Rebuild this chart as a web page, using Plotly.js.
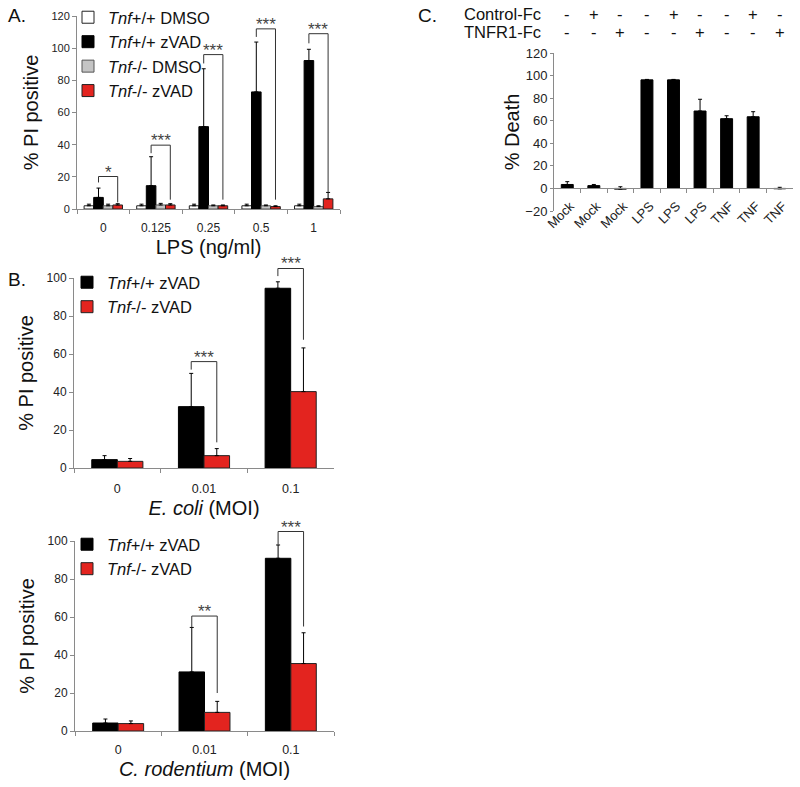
<!DOCTYPE html>
<html><head><meta charset="utf-8">
<script src="https://cdn.plot.ly/plotly-3.0.1.min.js"></script>
<style>html,body{margin:0;padding:0;background:#fff}#chart{width:800px;height:787px}</style>
</head><body><div id="chart"></div>
<script>
// ---------- Panel A: LPS dose ----------
const lpsDoses = ['0', '0.125', '0.25', '0.5', '1'];
const aWtDmso = [2, 2, 2, 2, 2];
const aWtDmsoErr = [1, 1, 1, 1, 1];
const aWtZvad = [7.2, 14.5, 51.2, 72.8, 92.3];
const aWtZvadErr = [5.8, 18, 36, 31, 7];
const aKoDmso = [2, 2.5, 2, 2, 1.5];
const aKoDmsoErr = [1, 1, 0.5, 0.5, 0.5];
const aKoZvad = [2.5, 2.5, 2, 1.5, 6.3];
const aKoZvadErr = [0.8, 0.8, 0.5, 0.5, 4];
const aSig = ['*', '***', '***', '***', '***'];
const aSigTop = [20.2, 39.7, 96, 112, 109];
const aSigLeftEnd = [16.5, 34.7, 90.5, 107, 103];
const aSigRightEnd = [4.1, 5.8, 5.8, 5.8, 10.3];

// ---------- Panel B: E. coli ----------
const ecoliMoi = ['0', '0.01', '0.1'];
const b1Wt = [4.4, 32.3, 94.6];
const b1WtErr = [2.1, 17.5, 3.4];
const b1Ko = [3.5, 6.5, 40.2];
const b1KoErr = [1.5, 3.7, 23];
const b1Sig = [null, '***', '***'];
const b1SigTop = [null, 56, 105];
const b1SigLeftEnd = [null, 51.8, 101];
const b1SigRightEnd = [null, 13.5, 67.5];

// ---------- Panel B: C. rodentium ----------
const crodMoi = ['0', '0.01', '0.1'];
const b2Wt = [4.2, 31.1, 90.9];
const b2WtErr = [2.1, 23.4, 7];
const b2Ko = [3.9, 9.8, 35.5];
const b2KoErr = [1.4, 5.8, 16.2];
const b2Sig = [null, '**', '***'];
const b2SigTop = [null, 60.5, 105];
const b2SigLeftEnd = [null, 54.5, 98];
const b2SigRightEnd = [null, 20, 55];

// ---------- Panel C ----------
const cTreat = ['Mock', 'Mock', 'Mock', 'LPS', 'LPS', 'LPS', 'TNF', 'TNF', 'TNF'];
const cControlFc = ['-', '+', '-', '-', '+', '-', '-', '+', '-'];
const cTnfr1Fc = ['-', '-', '+', '-', '-', '+', '-', '-', '+'];
const cDeath = [3.5, 2.5, -0.6, 96.2, 96.2, 68.6, 61.8, 63.5, -0.3];
const cDeathErr = [2.5, 1, 2.1, 0.4, 0.4, 10.4, 2.6, 4.5, 1.3];

// ---------- styling / layout ----------
const FONT = 'Liberation Sans, Arial, Helvetica, sans-serif';
const RED = '#e3241f';
const GRAY = '#c4c4c4';
const AXC = '#8a8a8a';
const W = 800, H = 787;
const fx = p => p / W;            // pixel -> paper x
const fy = p => 1 - p / H;        // pixel -> paper y

const dom = {
  xa: [fx(77), fx(340)],  ya: [fy(209), fy(16)],
  xb1: [fx(74), fx(334)], yb1: [fy(468), fy(278)],
  xb2: [fx(75), fx(334)], yb2: [fy(731), fy(541)],
  xc: [fx(554), fx(793)], yc: [fy(211), fy(53)]
};
const rng = {
  xa: [-0.5, lpsDoses.length - 0.5], ya: [0, 120],
  xb1: [-0.5, ecoliMoi.length - 0.5], yb1: [0, 100],
  xb2: [-0.5, crodMoi.length - 0.5], yb2: [0, 100],
  xc: [-0.5, cTreat.length - 0.5], yc: [-20, 120]
};
const toPaper = (d, r, v) => d[0] + (v - r[0]) / (r[1] - r[0]) * (d[1] - d[0]);

const GAP_A = 0.27, GAP_B = 0.41, GAP_C = 0.55;

function bar(name, x, y, err, fill, lineColor, xa, ya, legend, show) {
  return {
    type: 'bar', name: name, x: x, y: y,
    xaxis: xa, yaxis: ya, legend: legend, showlegend: show,
    marker: {color: fill, line: {color: lineColor, width: 1}},
    error_y: {type: 'data', symmetric: false, array: err, arrayminus: err.map(() => 0),
              color: '#000', thickness: 1, width: 2},
    cliponaxis: false
  };
}

const data = [
  bar('<i>Tnf</i>+/+ DMSO', lpsDoses, aWtDmso, aWtDmsoErr, '#ffffff', '#222', 'x', 'y', 'legend', true),
  bar('<i>Tnf</i>+/+ zVAD', lpsDoses, aWtZvad, aWtZvadErr, '#000000', '#000', 'x', 'y', 'legend', true),
  bar('<i>Tnf</i>-/- DMSO', lpsDoses, aKoDmso, aKoDmsoErr, GRAY, '#555', 'x', 'y', 'legend', true),
  bar('<i>Tnf</i>-/- zVAD', lpsDoses, aKoZvad, aKoZvadErr, RED, '#222', 'x', 'y', 'legend', true),
  bar('<i>Tnf</i>+/+ zVAD', ecoliMoi, b1Wt, b1WtErr, '#000000', '#000', 'x2', 'y2', 'legend2', true),
  bar('<i>Tnf</i>-/- zVAD', ecoliMoi, b1Ko, b1KoErr, RED, '#222', 'x2', 'y2', 'legend2', true),
  bar('<i>Tnf</i>+/+ zVAD', crodMoi, b2Wt, b2WtErr, '#000000', '#000', 'x3', 'y3', 'legend3', true),
  bar('<i>Tnf</i>-/- zVAD', crodMoi, b2Ko, b2KoErr, RED, '#222', 'x3', 'y3', 'legend3', true),
  bar('% Death', cTreat.map((c, i) => i), cDeath, cDeathErr, '#000000', '#000', 'x4', 'y4', 'legend', false)
];

const shapes = [];
const annotations = [];

// bar centre offset inside a group
const barOffset = (gap, n, i) => -(1 - gap) / 2 + (i + 0.5) * (1 - gap) / n;

function addBrackets(cats, sig, top, leftEnd, rightEnd, xd, xr, yd, yr, gap, n, iL, iR) {
  cats.forEach((c, k) => {
    if (sig[k] == null) return;
    const xl = toPaper(xd, xr, k + barOffset(gap, n, iL));
    const xrr = toPaper(xd, xr, k + barOffset(gap, n, iR));
    const yt = toPaper(yd, yr, top[k]);
    const yl = toPaper(yd, yr, leftEnd[k]);
    const yrr = toPaper(yd, yr, rightEnd[k]);
    const ln = {color: '#333', width: 1};
    shapes.push({type: 'line', xref: 'paper', yref: 'paper', x0: xl, x1: xl, y0: yl, y1: yt, line: ln});
    shapes.push({type: 'line', xref: 'paper', yref: 'paper', x0: xl, x1: xrr, y0: yt, y1: yt, line: ln});
    shapes.push({type: 'line', xref: 'paper', yref: 'paper', x0: xrr, x1: xrr, y0: yrr, y1: yt, line: ln});
    annotations.push({xref: 'paper', yref: 'paper', x: (xl + xrr) / 2, y: yt, text: sig[k],
      showarrow: false, xanchor: 'center', yanchor: 'bottom', yshift: -7,
      font: {family: FONT, size: 17, color: '#444'}});
  });
}
addBrackets(lpsDoses, aSig, aSigTop, aSigLeftEnd, aSigRightEnd, dom.xa, rng.xa, dom.ya, rng.ya, GAP_A, 4, 1, 3);
addBrackets(ecoliMoi, b1Sig, b1SigTop, b1SigLeftEnd, b1SigRightEnd, dom.xb1, rng.xb1, dom.yb1, rng.yb1, GAP_B, 2, 0, 1);
addBrackets(crodMoi, b2Sig, b2SigTop, b2SigLeftEnd, b2SigRightEnd, dom.xb2, rng.xb2, dom.yb2, rng.yb2, GAP_B, 2, 0, 1);

// Panel C treatment rows
const rowFont = {family: FONT, size: 16.5, color: '#111'};
annotations.push({xref: 'paper', yref: 'paper', x: fx(462), y: fy(14), text: 'Control-Fc', showarrow: false, xanchor: 'left', yanchor: 'middle', font: rowFont});
annotations.push({xref: 'paper', yref: 'paper', x: fx(462), y: fy(32), text: 'TNFR1-Fc', showarrow: false, xanchor: 'left', yanchor: 'middle', font: rowFont});
cTreat.forEach((c, i) => {
  const xp = toPaper(dom.xc, rng.xc, i);
  annotations.push({xref: 'paper', yref: 'paper', x: xp, y: fy(14), text: cControlFc[i], showarrow: false, xanchor: 'center', yanchor: 'middle', font: rowFont});
  annotations.push({xref: 'paper', yref: 'paper', x: xp, y: fy(32), text: cTnfr1Fc[i], showarrow: false, xanchor: 'center', yanchor: 'middle', font: rowFont});
});

// Panel letters
const letterFont = {family: FONT, size: 19, color: '#111'};
annotations.push({xref: 'paper', yref: 'paper', x: fx(6), y: fy(16), text: 'A.', showarrow: false, xanchor: 'left', yanchor: 'middle', font: letterFont});
annotations.push({xref: 'paper', yref: 'paper', x: fx(6), y: fy(279), text: 'B.', showarrow: false, xanchor: 'left', yanchor: 'middle', font: letterFont});
annotations.push({xref: 'paper', yref: 'paper', x: fx(416), y: fy(16), text: 'C.', showarrow: false, xanchor: 'left', yanchor: 'middle', font: letterFont});

const titleFont = {family: FONT, size: 20, color: '#111'};

function catX(d, r, cats, anchor, title, fs, standoff) {
  return {domain: d, range: r, anchor: anchor, type: 'category', categoryarray: cats,
    tickson: 'boundaries', ticks: 'outside', ticklen: 4, tickcolor: AXC,
    showline: true, linecolor: AXC, linewidth: 1, showgrid: false, zeroline: false,
    tickfont: {family: FONT, size: fs, color: '#222'}, ticklabelstandoff: standoff, fixedrange: true,
    title: {text: title, font: titleFont, standoff: 5}};
}
function valY(d, r, dt, anchor, title, fs, tlen, standoff) {
  return {domain: d, range: r, dtick: dt, anchor: anchor,
    ticks: 'outside', ticklen: tlen, tickcolor: AXC,
    showline: true, linecolor: AXC, linewidth: 1, showgrid: false, zeroline: false,
    tickfont: {family: FONT, size: fs, color: '#222'}, fixedrange: true,
    title: {text: title, font: titleFont, standoff: standoff}};
}

const legendFont = {family: FONT, size: 16.5, color: '#111'};
const layout = {
  width: W, height: H,
  margin: {l: 0, r: 0, t: 0, b: 0},
  paper_bgcolor: '#fff', plot_bgcolor: 'rgba(0,0,0,0)',
  font: {family: FONT, color: '#111'},
  barmode: 'group',
  showlegend: true,
  xaxis: catX(dom.xa, rng.xa, lpsDoses, 'y', 'LPS (ng/ml)', 12, 8),
  yaxis: valY(dom.ya, rng.ya, 20, 'x', '% PI positive', 11, 4, 7),
  xaxis2: catX(dom.xb1, rng.xb1, ecoliMoi, 'y2', '<i>E. coli</i> (MOI)', 12.5, 9),
  yaxis2: valY(dom.yb1, rng.yb1, 20, 'x2', '% PI positive', 12, 4, 7),
  xaxis3: catX(dom.xb2, rng.xb2, crodMoi, 'y3', '<i>C. rodentium</i> (MOI)', 12.5, 7),
  yaxis3: valY(dom.yb2, rng.yb2, 20, 'x3', '% PI positive', 12, 4, 7),
  xaxis4: {domain: dom.xc, range: rng.xc, anchor: 'free', position: toPaper(dom.yc, rng.yc, 0),
    tickmode: 'array', tickvals: cTreat.map((c, i) => i), ticktext: cTreat, tickangle: -45,
    ticks: '', showline: true, linecolor: AXC, linewidth: 1, showgrid: false, zeroline: false,
    ticklabelstandoff: 4, ticklabelshift: 3,
    minor: {tickmode: 'array', tickvals: cTreat.map((c, i) => i + 0.5).slice(0, cTreat.length - 1),
            ticks: 'outside', ticklen: 4, tickcolor: AXC, showgrid: false},
    tickfont: {family: FONT, size: 13, color: '#222'}, fixedrange: true},
  yaxis4: valY(dom.yc, rng.yc, 20, 'x4', '% Death', 13, 3, 0),
  legend: {x: fx(68), y: fy(0), xanchor: 'left', yanchor: 'top', bgcolor: 'rgba(0,0,0,0)',
    font: legendFont, tracegroupgap: 0},
  legend2: {x: fx(67), y: fy(265), xanchor: 'left', yanchor: 'top', bgcolor: 'rgba(0,0,0,0)',
    font: legendFont, tracegroupgap: 0},
  legend3: {x: fx(67), y: fy(527), xanchor: 'left', yanchor: 'top', bgcolor: 'rgba(0,0,0,0)',
    font: legendFont, tracegroupgap: 0},
  shapes: shapes,
  annotations: annotations
};

// each panel has its own bar gap: set bar width and offset inside each group
function setGroupGeometry(traces, gap) {
  const n = traces.length, w = (1 - gap) / n;
  traces.forEach((t, i) => { t.width = w; t.offset = -(1 - gap) / 2 + i * w; });
}
setGroupGeometry([data[0], data[1], data[2], data[3]], GAP_A);
setGroupGeometry([data[4], data[5]], GAP_B);
setGroupGeometry([data[6], data[7]], GAP_B);
setGroupGeometry([data[8]], GAP_C);

Plotly.newPlot('chart', data, layout, {staticPlot: true});
</script>
</body></html>
